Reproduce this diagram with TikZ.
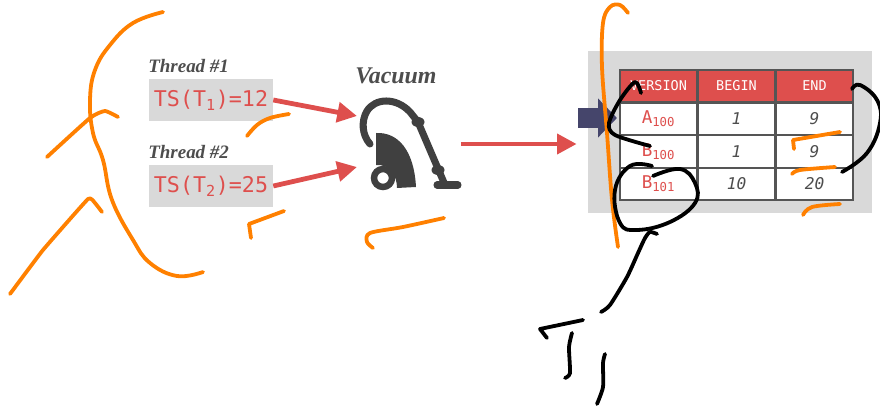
\documentclass[tikz,border=0pt]{standalone}
\usepackage{fontspec}
\setmonofont{DejaVu Sans Mono}
\newfontfamily\labelfont{Liberation Serif}
\usepackage{xcolor}
\usetikzlibrary{arrows.meta, positioning, calc}
\definecolor{panelgrey}{HTML}{d9d9d9}
\definecolor{tsred}{HTML}{de4f4d}
\definecolor{labelgrey}{HTML}{4d4d4d}
\definecolor{gridgrey}{HTML}{555555}
\definecolor{iconcolor}{HTML}{404040}
\definecolor{dirblue}{HTML}{45456b}
\definecolor{penorange}{HTML}{ff8000}

\begin{document}
\begin{tikzpicture}[
    x=0.025cm, y=-0.025cm,
    threadlabel/.style={
        font=\fontsize{13.5}{15}\selectfont\labelfont\bfseries\itshape,
        text=labelgrey, inner sep=0pt,
    },
    tsbox/.style={
        rectangle, fill=panelgrey, text=tsred,
        font=\fontsize{15.4}{18}\selectfont\ttfamily,
        minimum width=3.1cm, minimum height=1.05cm, inner sep=0pt,
    },
    headcell/.style={
        rectangle, fill=tsred, draw=gridgrey, line width=1.4pt, text=white,
        font=\fontsize{9.6}{11}\selectfont\ttfamily,
        minimum width=1.94cm, minimum height=0.81cm, inner sep=0pt,
    },
    vercell/.style={
        rectangle, fill=white, draw=gridgrey, line width=1.4pt, text=tsred,
        font=\fontsize{12.5}{14}\selectfont\ttfamily,
        minimum width=1.94cm, minimum height=0.81cm, inner sep=0pt,
    },
    valcell/.style={
        rectangle, fill=white, draw=gridgrey, line width=1.4pt, text=labelgrey,
        font=\fontsize{11.5}{13}\selectfont\ttfamily\itshape,
        minimum width=1.94cm, minimum height=0.81cm, inner sep=0pt,
    },
    flow/.style={
        draw=tsred, line width=3.4pt,
        -{Triangle[length=14pt, width=14pt]},
    },
    penorangeline/.style={draw=penorange, line width=2.7pt, line cap=round, line join=round},
    penblackline/.style={draw=black, line width=2.7pt, line cap=round, line join=round},
]
\useasboundingbox (0,0) rectangle (880,406);

% Threads
\node[threadlabel, anchor=west] (thread1) at (148,66) {Thread \#1};
\node[tsbox] (ts1) at (211,100) {TS(T\textsubscript{1})=12};
\node[threadlabel, anchor=west] (thread2) at (148,152) {Thread \#2};
\node[tsbox] (ts2) at (211,186) {TS(T\textsubscript{2})=25};

% Vacuum icon
\node[threadlabel, font=\fontsize{17}{19}\selectfont\labelfont\bfseries\itshape] (vaclabel) at (396,76) {Vacuum};
\node[minimum width=2.55cm, minimum height=2.25cm, inner sep=0pt] (vacuum) at (409.5,144) {};
\coordinate (vacin1) at (357,116);
\coordinate (vacin2) at (357,167);
\draw[iconcolor, line width=5pt, line cap=round, line join=round]
    (370,144) .. controls (362,135) and (361,121) .. (367,111)
    .. controls (375,98) and (396,97) .. (410,112) -- (418,122) -- (445,185);
\fill[iconcolor] (418,122) ellipse (6.5 and 5);
\fill[iconcolor] (438,170) ellipse (6.5 and 5);
\fill[iconcolor] (376,133) .. controls (398,132) and (414,150) .. (416,187)
    -- (397,188) .. controls (397,176) and (390,164) .. (376,165) -- cycle;
\draw[iconcolor, line width=4.6pt] (383,178) circle (9);
\draw[iconcolor, line width=5pt, line cap=round] (437,185) -- (458,185);

% Version table
\node[rectangle, fill=panelgrey, minimum width=7.1cm, minimum height=4.05cm, inner sep=0pt] (tablebg) at (730,132) {};
\node[headcell] (h1) at (658.5,86) {VERSION};
\node[headcell] (h2) at (736.5,86) {BEGIN};
\node[headcell] (h3) at (814.5,86) {END};
\node[vercell] (r1) at (658.5,119) {A\textsubscript{100}};
\node[valcell] (r1b) at (736.5,119) {1};
\node[valcell] (r1e) at (814.5,119) {9};
\node[vercell] (r2) at (658.5,151.5) {B\textsubscript{100}};
\node[valcell] (r2b) at (736.5,151.5) {1};
\node[valcell] (r2e) at (814.5,151.5) {9};
\node[vercell] (r3) at (658.5,184) {B\textsubscript{101}};
\node[valcell] (r3b) at (736.5,184) {10};
\node[valcell] (r3e) at (814.5,184) {20};

% Arrows
\draw[flow] (ts1.east) -- (vacin1);
\draw[flow] (ts2.east) -- (vacin2);
\draw[flow, shorten >=0.275cm] (vacuum.east) -- (vacuum.east -| tablebg.west);
\coordinate (dirstart) at (578,118);
\coordinate (dirend) at (617,118);
\draw[dirblue, line width=14pt, -{Triangle[length=13.5pt, width=27pt]}] (dirstart) -- (dirend);

% Orange strokes
\draw[penorangeline] plot[smooth, tension=0.7] coordinates {(163,12) (133,23) (110,45) (95,70) (90,100) (93,133) (103,160) (112,200) (133,240) (150,263) (177,276) (203,272)};
\draw[penorangeline] plot[smooth, tension=0.3] coordinates {(47,157) (90,118) (105,111) (118,117)};
\draw[penorangeline] plot[smooth, tension=0.2] coordinates {(10,294) (43,250) (88,199) (95,203) (102,212)};
\draw[penorangeline] plot[smooth, tension=0.6] coordinates {(247,136) (257,125) (270,118) (289,114)};
\draw[penorangeline] (251,238) -- (249,224) -- (284,211);
\draw[penorangeline] plot[smooth, tension=0.5] coordinates {(373,248) (367,242) (370,233) (403,227) (444,218)};
\draw[penorangeline] plot[smooth, tension=0.6] coordinates {(628,13) (620,5) (610,7) (603,23) (602,67) (607,133) (612,200) (618,247)};
\draw[penorangeline] (794,149) -- (793,140) -- (840,132);
\draw[penorangeline] plot[smooth, tension=0.5] coordinates {(792,174) (800,170) (835,167)};
\draw[penorangeline] plot[smooth, tension=0.6] coordinates {(803,215) (812,207) (840,204)};

% Black strokes
\draw[penblackline] plot[smooth, tension=0.5] coordinates {(641,93) (635,82) (620,100) (609,123) (615,135) (650,146)};
\draw[penblackline] plot[smooth, tension=0.7] coordinates {(652,166) (630,166) (615,190) (620,223) (637,230) (670,222) (695,203) (695,183) (680,169) (653,176)};
\draw[penblackline] plot[smooth, tension=0.7] coordinates {(852,89) (860,85) (877,100) (880,123) (867,153) (842,172)};
\draw[penblackline] plot[smooth, tension=0.4] coordinates {(601,312) (610,305) (627,277) (638,253) (645,238) (650,232) (657,234)};
\draw[penblackline] (547,338) -- (540,329) -- (583,320);
\draw[penblackline] plot[smooth, tension=0.4] coordinates {(572,333) (569,347) (570,373) (565,378)};
\draw[penblackline] plot[smooth, tension=0.4] coordinates {(605,354) (603,363) (603,387) (597,404)};

\end{tikzpicture}
\end{document}
